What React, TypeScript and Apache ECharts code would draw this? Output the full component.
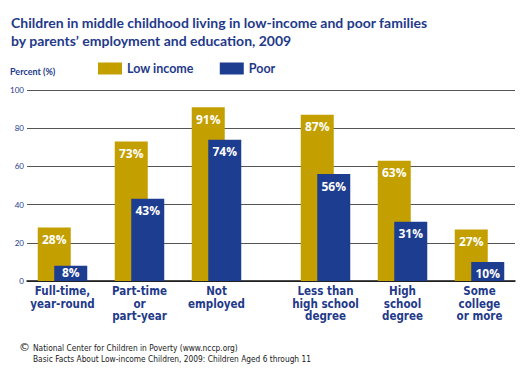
import React, { useEffect, useRef } from "react";
import * as echarts from "echarts";

const employmentCategories = ["Full-time,\nyear-round", "Part-time\nor\npart-year", "Not\nemployed"];
const educationCategories = ["Less than\nhigh school\ndegree", "High\nschool\ndegree", "Some\ncollege\nor more"];
const lowIncomeEmployment = [28, 73, 91];
const poorEmployment = [8, 43, 74];
const lowIncomeEducation = [87, 63, 27];
const poorEducation = [56, 31, 10];
const seriesNames = ["Low income", "Poor"];

const GOLD = "#C49F00";
const BLUE = "#1D3D91";
const TEXT_BLUE = "#1F3A8A";

export default function App() {
  const ref = useRef<HTMLDivElement>(null);
  useEffect(() => {
    if (!ref.current) return;
    const chart = echarts.init(ref.current, null, { renderer: "svg" });
    const top = 90;
    const bottom = 94;
    const catLabel = {
      color: TEXT_BLUE,
      fontFamily: "'DejaVu Sans Condensed'",
      fontWeight: "bold" as const,
      fontSize: 11.5,
      lineHeight: 12.5,
      margin: 4,
      interval: 0,
    };
    const barLabel = {
      show: true,
      position: "insideTop" as const,
      distance: 6,
      color: "#fff",
      fontFamily: "Open Sans",
      fontWeight: "bold" as const,
      fontSize: 12,
      formatter: "{c}%",
    };
    const mk = (vals: number[], name: string, color: string, idx: number) => ({
      type: "bar" as const,
      name,
      xAxisIndex: idx,
      yAxisIndex: idx,
      barWidth: 33,
      barGap: "-50%",
      itemStyle: { color },
      label: barLabel,
      data: vals.map((v) =>
        v < 9 ? { value: v, label: { distance: 1 } } : v
      ),
    });
    chart.setOption({
      animation: false,
      title: {
        text: "Children in middle childhood living in low-income and poor families\nby parents\u2019 employment and education, 2009",
        left: 6,
        top: 8,
        textStyle: {
          color: TEXT_BLUE,
          fontFamily: "Lato",
          fontWeight: "bold",
          fontSize: 14,
          lineHeight: 18,
        },
      },
      legend: {
        data: seriesNames,
        left: 98,
        top: 62,
        padding: 0,
        itemWidth: 24,
        itemHeight: 12,
        itemGap: 26,
        icon: "rect",
        textStyle: {
          color: TEXT_BLUE,
          fontFamily: "Lato",
          fontWeight: "bold",
          fontSize: 12.5,
        },
      },
      graphic: [
        {
          type: "text",
          left: 10,
          top: 67,
          style: {
            text: "Percent (%)",
            fill: TEXT_BLUE,
            font: "bold 9px Lato",
          },
        },
        {
          type: "text",
          left: 19,
          top: 342,
          style: { text: "\u00A9", fill: "#222", font: "11px 'DejaVu Sans'" },
        },
        {
          type: "text",
          left: 33,
          top: 342,
          style: {
            text: "National Center for Children in Poverty (www.nccp.org)\nBasic Facts About Low-income Children, 2009: Children Aged 6 through 11",
            fill: "#1a1a1a",
            font: "8.3px 'DejaVu Sans Condensed'",
            lineHeight: 11.5,
          },
        },
      ],
      grid: [
        { left: 27, right: 12, top, bottom, containLabel: false },
        { left: 24, width: 231, top, bottom, containLabel: false },
        { left: 287, width: 231, top, bottom, containLabel: false },
      ],
      xAxis: [
        {
          gridIndex: 0,
          type: "value",
          min: 0,
          max: 1,
          axisLine: { show: true, onZero: false, lineStyle: { color: "#111", width: 1.5 } },
          axisTick: { show: false },
          axisLabel: { show: false },
          splitLine: { show: false },
        },
        {
          gridIndex: 1,
          type: "category",
          data: employmentCategories,
          axisLine: { show: false },
          axisTick: { show: false },
          axisLabel: catLabel,
        },
        {
          gridIndex: 2,
          type: "category",
          data: educationCategories,
          axisLine: { show: false },
          axisTick: { show: false },
          axisLabel: catLabel,
        },
      ],
      yAxis: [
        {
          gridIndex: 0,
          type: "value",
          min: 0,
          max: 100,
          interval: 20,
          axisLine: { show: false },
          axisTick: { show: false },
          axisLabel: { color: TEXT_BLUE, fontSize: 8, fontFamily: "Lato", margin: 3 },
          splitLine: { lineStyle: { color: "#555", width: 1 } },
        },
        { gridIndex: 1, type: "value", min: 0, max: 100, show: false },
        { gridIndex: 2, type: "value", min: 0, max: 100, show: false },
      ],
      series: [
        mk(lowIncomeEmployment, seriesNames[0], GOLD, 1),
        mk(poorEmployment, seriesNames[1], BLUE, 1),
        mk(lowIncomeEducation, seriesNames[0], GOLD, 2),
        mk(poorEducation, seriesNames[1], BLUE, 2),
      ],
    });
    return () => chart.dispose();
  }, []);
  return (
    <div
      ref={ref}
      style={{ position: "fixed", left: 0, top: 0, width: 527, height: 375, background: "#fff" }}
    />
  );
}
